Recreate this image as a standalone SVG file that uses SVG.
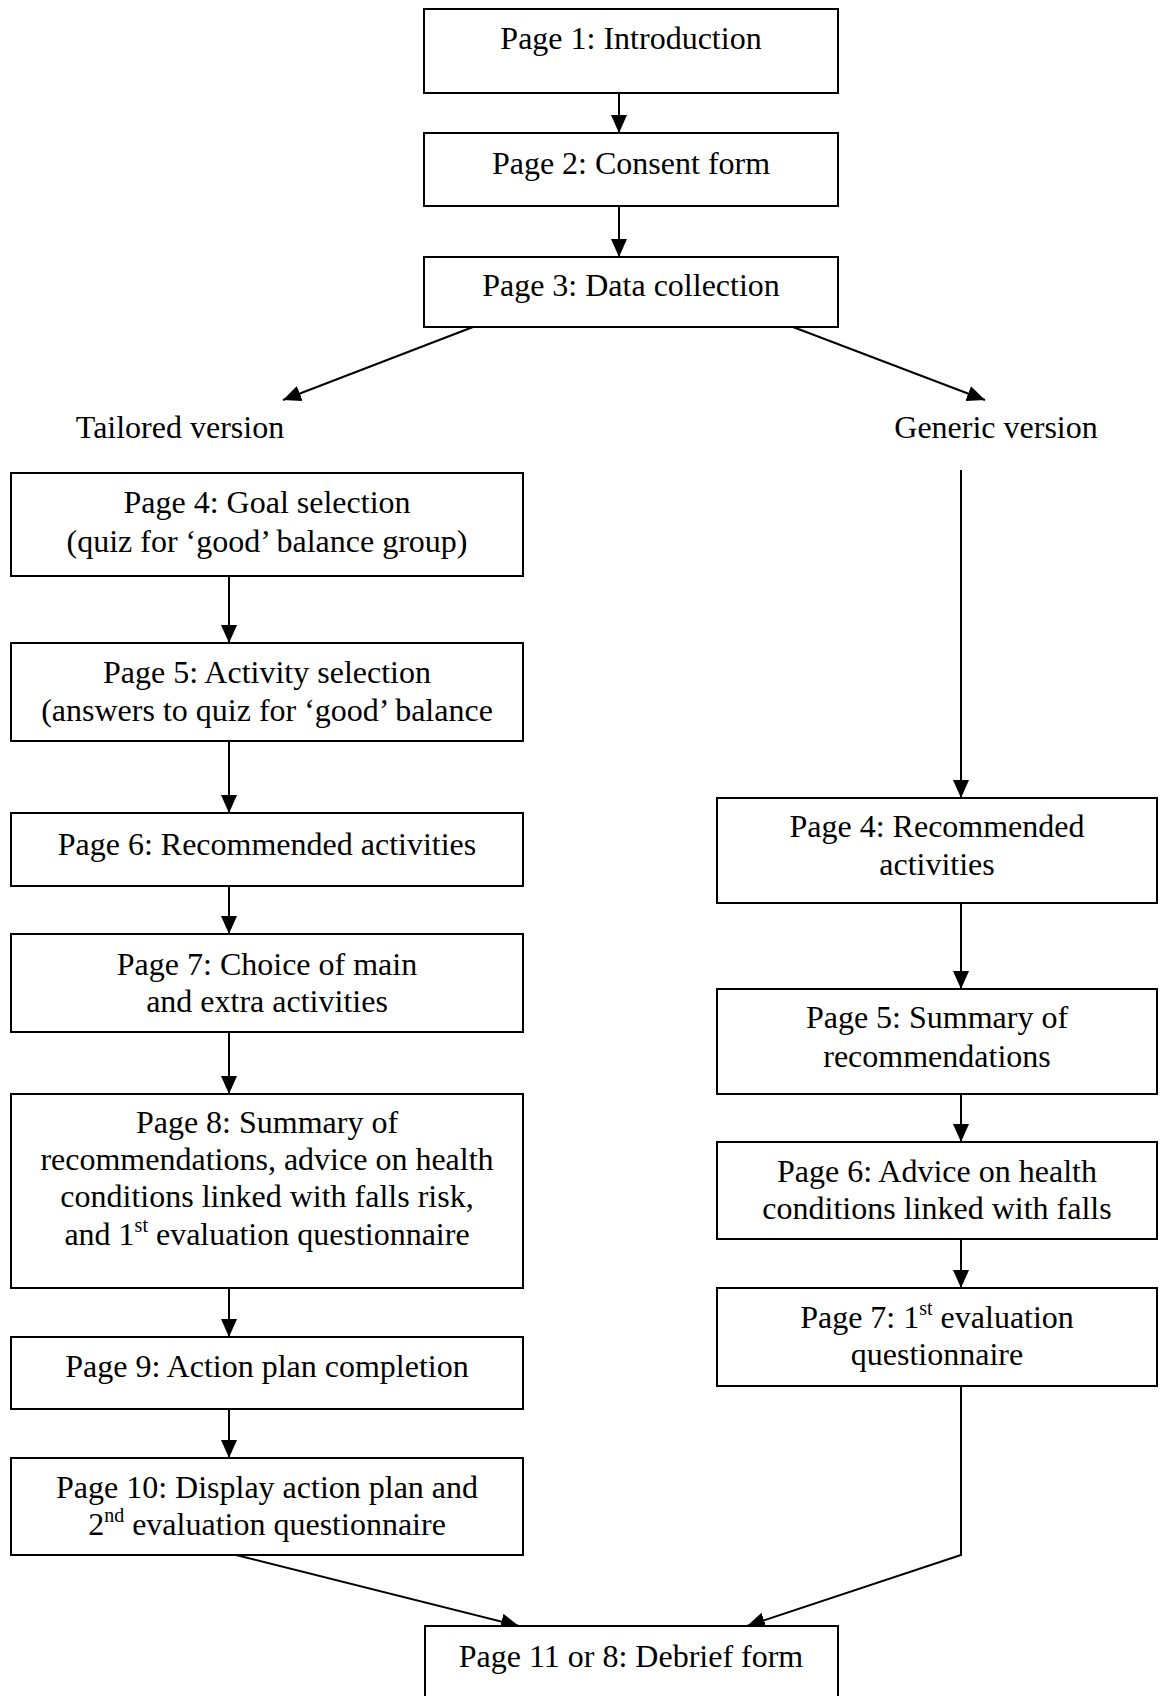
<svg xmlns="http://www.w3.org/2000/svg" width="1163" height="1696" viewBox="0 0 1163 1696">
<style>
.box{fill:#fff;stroke:#000;stroke-width:2}
.t{font-family:"Liberation Serif","Times New Roman",serif;font-size:32px;fill:#000;text-anchor:middle}
.sup{font-size:20px}
.c{fill:none;stroke:#000;stroke-width:2}
</style>
<defs>
<marker id="ah" markerUnits="userSpaceOnUse" markerWidth="18" markerHeight="16" viewBox="0 0 18 16" refX="18" refY="8" orient="auto">
<path d="M0,0 L18,8 L0,16 Z" fill="#000"/>
</marker>
</defs>
<rect width="1163" height="1696" fill="#fff"/>
<g id="connectors">
<line class="c" x1="619" y1="93" x2="619" y2="133" marker-end="url(#ah)"/>
<line class="c" x1="619" y1="206" x2="619" y2="257" marker-end="url(#ah)"/>
<line class="c" x1="473" y1="327" x2="283" y2="400" marker-end="url(#ah)"/>
<line class="c" x1="793" y1="327" x2="985" y2="400" marker-end="url(#ah)"/>
<line class="c" x1="229" y1="576" x2="229" y2="643" marker-end="url(#ah)"/>
<line class="c" x1="229" y1="741" x2="229" y2="813" marker-end="url(#ah)"/>
<line class="c" x1="229" y1="886" x2="229" y2="934" marker-end="url(#ah)"/>
<line class="c" x1="229" y1="1032" x2="229" y2="1094" marker-end="url(#ah)"/>
<line class="c" x1="229" y1="1288" x2="229" y2="1337" marker-end="url(#ah)"/>
<line class="c" x1="229" y1="1409" x2="229" y2="1458" marker-end="url(#ah)"/>
<line class="c" x1="961" y1="470" x2="961" y2="798" marker-end="url(#ah)"/>
<line class="c" x1="961" y1="903" x2="961" y2="989" marker-end="url(#ah)"/>
<line class="c" x1="961" y1="1094" x2="961" y2="1142" marker-end="url(#ah)"/>
<line class="c" x1="961" y1="1239" x2="961" y2="1288" marker-end="url(#ah)"/>
<polyline class="c" points="961,1386 961,1555 747,1626" marker-end="url(#ah)"/>
<line class="c" x1="236" y1="1555" x2="519" y2="1626" marker-end="url(#ah)"/>
</g>
<g id="n1"><rect class="box" x="424" y="9" width="414" height="84"/><text class="t" x="631" y="49">Page 1: Introduction</text></g>
<g id="n2"><rect class="box" x="424" y="133" width="414" height="73"/><text class="t" x="631" y="174">Page 2: Consent form</text></g>
<g id="n3"><rect class="box" x="424" y="257" width="414" height="70"/><text class="t" x="631" y="296">Page 3: Data collection</text></g>
<g id="lblTailored"><text class="t" x="180" y="438">Tailored version</text></g>
<g id="lblGeneric"><text class="t" x="996" y="438">Generic version</text></g>
<g id="L4"><rect class="box" x="11" y="473" width="512" height="103"/><text class="t" x="267" y="513">Page 4: Goal selection</text><text class="t" x="267" y="552">(quiz for ‘good’ balance group)</text></g>
<g id="L5"><rect class="box" x="11" y="643" width="512" height="98"/><text class="t" x="267" y="683">Page 5: Activity selection</text><text class="t" x="267" y="721">(answers to quiz for ‘good’ balance</text></g>
<g id="L6"><rect class="box" x="11" y="813" width="512" height="73"/><text class="t" x="267" y="855">Page 6: Recommended activities</text></g>
<g id="L7"><rect class="box" x="11" y="934" width="512" height="98"/><text class="t" x="267" y="975">Page 7: Choice of main</text><text class="t" x="267" y="1012">and extra activities</text></g>
<g id="L8"><rect class="box" x="11" y="1094" width="512" height="194"/><text class="t" x="267" y="1133">Page 8: Summary of</text><text class="t" x="267" y="1170">recommendations, advice on health</text><text class="t" x="267" y="1207">conditions linked with falls risk,</text><text class="t" x="267" y="1245">and 1<tspan class="sup" dy="-13">st</tspan><tspan dy="13"> evaluation questionnaire</tspan></text></g>
<g id="L9"><rect class="box" x="11" y="1337" width="512" height="72"/><text class="t" x="267" y="1377">Page 9: Action plan completion</text></g>
<g id="L10"><rect class="box" x="11" y="1458" width="512" height="97"/><text class="t" x="267" y="1498">Page 10: Display action plan and</text><text class="t" x="267" y="1535">2<tspan class="sup" dy="-13">nd</tspan><tspan dy="13"> evaluation questionnaire</tspan></text></g>
<g id="R4"><rect class="box" x="717" y="798" width="440" height="105"/><text class="t" x="937" y="837">Page 4: Recommended</text><text class="t" x="937" y="875">activities</text></g>
<g id="R5"><rect class="box" x="717" y="989" width="440" height="105"/><text class="t" x="937" y="1028">Page 5: Summary of</text><text class="t" x="937" y="1067">recommendations</text></g>
<g id="R6"><rect class="box" x="717" y="1142" width="440" height="97"/><text class="t" x="937" y="1182">Page 6: Advice on health</text><text class="t" x="937" y="1219">conditions linked with falls</text></g>
<g id="R7"><rect class="box" x="717" y="1288" width="440" height="98"/><text class="t" x="937" y="1328">Page 7: 1<tspan class="sup" dy="-13">st</tspan><tspan dy="13"> evaluation</tspan></text><text class="t" x="937" y="1365">questionnaire</text></g>
<g id="final"><rect class="box" x="425" y="1626" width="413" height="90"/><text class="t" x="631" y="1667">Page 11 or 8: Debrief form</text></g>
</svg>
